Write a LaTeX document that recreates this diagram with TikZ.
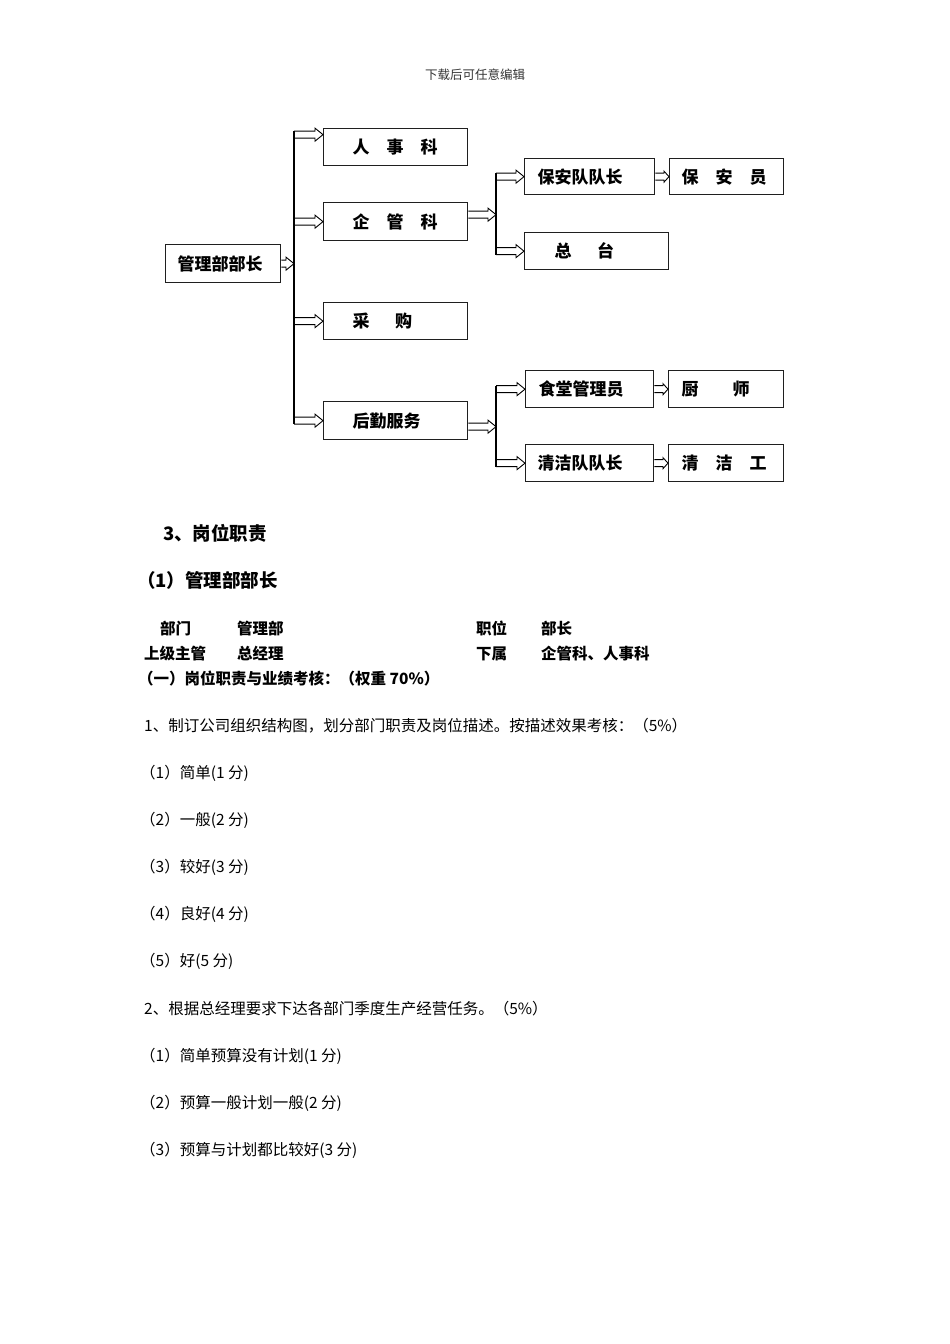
\documentclass[tikz,border=0pt]{standalone}
\usepackage{fontspec}
\newfontfamily\cjk{Noto Sans CJK SC}
\usetikzlibrary{calc}
\begin{document}
\begin{tikzpicture}[x=1pt,y=-1pt,
  box/.style={draw=black!88, line width=1.3pt, fill=white, anchor=north west,
    inner xsep=0pt, inner ysep=0pt, align=left,
    font=\cjk\bfseries\fontsize{17}{17}\selectfont},
  harr/.style={draw=black, line width=0.9pt, to path={let \p1=(\tikztostart), \p2=(\tikztotarget) in
     (\x1,\y1+3.5pt) -- (\x2-8pt,\y1+3.5pt) -- (\x2-8pt,\y1+6.5pt) -- (\x2,\y1)
     -- (\x2-8pt,\y1-6.5pt) -- (\x2-8pt,\y1-3.5pt) -- (\x1,\y1-3.5pt)}},
  harrs/.style={draw=black, line width=0.9pt, to path={let \p1=(\tikztostart), \p2=(\tikztotarget) in
     (\x1,\y1+3.5pt) -- (\x2-5pt,\y1+3.5pt) -- (\x2-5pt,\y1+5.5pt) -- (\x2,\y1)
     -- (\x2-5pt,\y1-5.5pt) -- (\x2-5pt,\y1-3.5pt) -- (\x1,\y1-3.5pt)}},
  bus/.style={draw=black, line width=1.2pt},
  txt/.style={anchor=west, inner sep=0pt, text height=0.88em, text depth=0.12em},
  body/.style={txt, font=\cjk\fontsize{15.5}{15.5}\selectfont},
  bold/.style={txt, font=\cjk\bfseries\fontsize{15.5}{15.5}\selectfont},
  head/.style={txt, font=\cjk\bfseries\fontsize{18.5}{18.5}\selectfont},
]
\useasboundingbox (0,0) rectangle (950,1344);

% ---- org chart boxes ----
\node[box, text width=115pt, minimum height=38pt] (mgr) at (165,244) {\hspace*{12pt}管理部部长};
\node[box, text width=144pt, minimum height=37pt] (rs) at (323,128) {\hspace*{29pt}人\hspace{1em}事\hspace{1em}科};
\node[box, text width=144pt, minimum height=38pt] (qg) at (323,202) {\hspace*{29pt}企\hspace{1em}管\hspace{1em}科};
\node[box, text width=144pt, minimum height=37pt] (cg) at (323,302) {\hspace*{29pt}采\hspace{1.5em}购};
\node[box, text width=144pt, minimum height=38pt] (hq) at (323,401) {\hspace*{29pt}后勤服务};
\node[box, text width=130pt, minimum height=36pt] (ba) at (524,158) {\hspace*{13pt}保安队队长};
\node[box, text width=114pt, minimum height=36pt] (bay) at (669,158) {\hspace*{12pt}保\hspace{1em}安\hspace{1em}员};
\node[box, text width=144pt, minimum height=37pt] (zt) at (524,232) {\hspace*{30pt}总\hspace{1.5em}台};
\node[box, text width=128pt, minimum height=37pt] (st) at (525,370) {\hspace*{13pt}食堂管理员};
\node[box, text width=115pt, minimum height=37pt] (cs) at (668,370) {\hspace*{13pt}厨\hspace{2em}师};
\node[box, text width=128pt, minimum height=37pt] (qj) at (525,444) {\hspace*{12pt}清洁队队长};
\node[box, text width=115pt, minimum height=37pt] (qjg) at (668,444) {\hspace*{13pt}清\hspace{1em}洁\hspace{1em}工};

% ---- buses ----
\coordinate (b1) at (294,0);
\coordinate (b2) at (496,0);
\draw[bus] ($(b1 |- rs.west)+(0,-16)$) -- ($(b1 |- hq.west)+(0,3.5)$);
\draw[bus] ($(b2 |- ba.west)+(0,-3.5)$) -- ($(b2 |- zt.west)+(0,3.5)$);
\draw[bus] ($(b2 |- st.west)+(0,-3.5)$) -- ($(b2 |- qj.west)+(0,3.5)$);

% ---- hollow arrows ----
\draw[harr] (mgr.east) to (b1);
\draw[harr] ($(b1 |- rs.west)+(0,-12.5)$) to (rs.west);
\draw[harr] (b1 |- qg.west) to (qg.west);
\draw[harr] (b1 |- cg.west) to (cg.west);
\draw[harr] (b1 |- hq.west) to (hq.west);
\draw[harr] ($(qg.east)+(0,-7)$) to (b2);
\draw[harr] (b2 |- ba.west) to (ba.west);
\draw[harr] (b2 |- zt.west) to (zt.west);
\draw[harr] ($(hq.east)+(0,6)$) to (b2);
\draw[harr] (b2 |- st.west) to (st.west);
\draw[harr] (b2 |- qj.west) to (qj.west);
\draw[harrs] (ba.east) to (bay.west);
\draw[harrs] (st.east) to (cs.west);
\draw[harrs] (qj.east) to (qjg.west);

% ---- text ----
\node[anchor=center, inner sep=0pt, text=black!80, font=\cjk\fontsize{12.5}{12.5}\selectfont] (t0) at (475,75) {下载后可任意编辑};
\node[head] (t1) at (163,536.5) {3、岗位职责};
\node[head] (t2) at (137,583.5) {（1）管理部部长};
\node[bold] (r11) at (160,630.5) {部门};
\node[bold] (r12) at (237,630.5) {管理部};
\node[bold] (r13) at (476,630.5) {职位};
\node[bold] (r14) at (541,630.5) {部长};
\node[bold] (r21) at (144,655.5) {上级主管};
\node[bold] (r22) at (237,655.5) {总经理};
\node[bold] (r23) at (476,655.5) {下属};
\node[bold] (r24) at (541,655.5) {企管科、人事科};
\node[bold] (t3) at (138,680.5) {（一）岗位职责与业绩考核：（权重 70\%）};
\node[body] (l1) at (144,727.5) {1、制订公司组织结构图，划分部门职责及岗位描述。按描述效果考核：（5\%）};
\node[body] (l2) at (140,774.5) {（1）简单(1 分)};
\node[body] (l3) at (140,821.5) {（2）一般(2 分)};
\node[body] (l4) at (140,868.5) {（3）较好(3 分)};
\node[body] (l5) at (140,915.5) {（4）良好(4 分)};
\node[body] (l6) at (140,962.5) {（5）好(5 分)};
\node[body] (l7) at (144,1010.5) {2、根据总经理要求下达各部门季度生产经营任务。（5\%）};
\node[body] (l8) at (140,1057.5) {（1）简单预算没有计划(1 分)};
\node[body] (l9) at (140,1104.5) {（2）预算一般计划一般(2 分)};
\node[body] (l10) at (140,1151.5) {（3）预算与计划都比较好(3 分)};
\end{tikzpicture}
\end{document}
